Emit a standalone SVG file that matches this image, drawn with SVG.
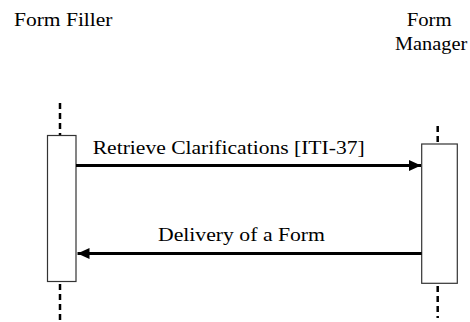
<svg xmlns="http://www.w3.org/2000/svg" width="470" height="322" viewBox="0 0 470 322">
<style>
.t{font-family:"Liberation Serif","Times New Roman",serif;font-size:19.5px;fill:#000}
.life{stroke:#000;stroke-width:2.5;stroke-dasharray:6 4;fill:none}
.box{fill:#fff;stroke:#333;stroke-width:1.2}
.msg{stroke:#000;stroke-width:3;fill:none}
</style>
<defs>
<marker id="ah" viewBox="0 0 12 11" refX="12" refY="5.5" markerWidth="12" markerHeight="11" markerUnits="userSpaceOnUse" orient="auto">
<path d="M0,0 L12,5.5 L0,11 Z" fill="#000"/>
</marker>
</defs>
<rect width="470" height="322" fill="#fff"/>
<g id="form-filler">
<text class="t" x="14" y="26" textLength="98.5" lengthAdjust="spacingAndGlyphs">Form Filler</text>
<line class="life" x1="60" y1="103" x2="60" y2="136"/>
<line class="life" x1="60" y1="284" x2="60" y2="322"/>
<rect class="box" x="47.5" y="135.5" width="28.5" height="146"/>
</g>
<g id="form-manager">
<text class="t" x="406.7" y="26" textLength="45" lengthAdjust="spacingAndGlyphs">Form</text>
<text class="t" x="395" y="49.5" textLength="72.3" lengthAdjust="spacingAndGlyphs">Manager</text>
<line class="life" x1="437.7" y1="126" x2="437.7" y2="144"/>
<line class="life" x1="437.7" y1="286" x2="437.7" y2="318"/>
<rect class="box" x="421.7" y="144" width="35.6" height="139.3"/>
</g>
<g id="connectors">
<g id="m1">
<line class="msg" x1="76" y1="165.5" x2="421" y2="165.5" marker-end="url(#ah)"/>
<text class="t" x="92.7" y="154" textLength="272" lengthAdjust="spacingAndGlyphs">Retrieve Clarifications [ITI-37]</text>
</g>
<g id="m2">
<line class="msg" x1="421.7" y1="253.5" x2="77.5" y2="253.5" marker-end="url(#ah)"/>
<text class="t" x="158" y="241" textLength="167" lengthAdjust="spacingAndGlyphs">Delivery of a Form</text>
</g>
</g>
</svg>
